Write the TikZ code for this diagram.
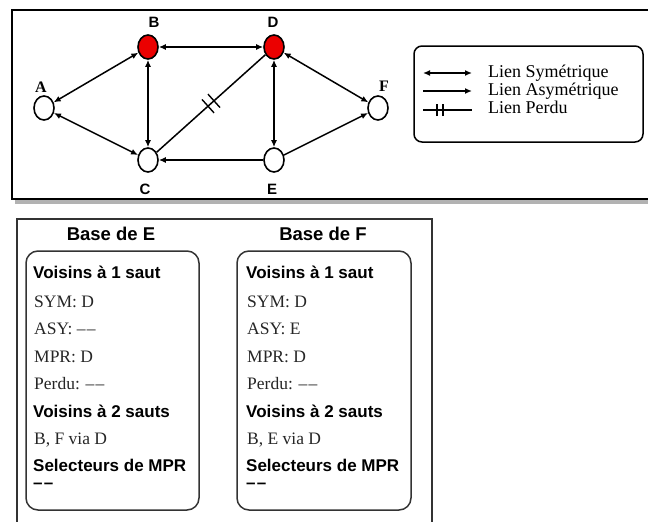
\documentclass[tikz,border=0pt]{standalone}
\usepackage{fontspec}
\setmainfont{Liberation Serif}
\setsansfont{Liberation Sans}
\usetikzlibrary{arrows.meta,decorations.markings,shapes.geometric}
\newcommand{\ddash}{\textendash\kern1.2pt\textendash}
\begin{document}
\begin{tikzpicture}[x=1pt,y=-1pt,
  nd/.style={ellipse,draw,line width=1.6pt,minimum width=20pt,minimum height=24pt,inner sep=0pt,fill=white},
  mprnd/.style={nd,fill=red!92!black},
  lnk/.style={line width=1.5pt},
  tip/.tip={Latex[length=7pt,width=6pt]},
  sym/.style={lnk,tip-tip},
  asy/.style={lnk,-tip},
  lost/.style={lnk,postaction={decorate},decoration={markings,
     mark=at position 0.5 with {\draw[line width=1.4pt] (-4pt,-9pt) -- (-4pt,9pt) (4pt,-9pt) -- (4pt,9pt);}}},
  lblsans/.style={font=\sffamily\bfseries\fontsize{15}{17}\selectfont,inner sep=0pt},
  lblserif/.style={font=\bfseries\fontsize{16}{18}\selectfont,inner sep=0pt},
  legtxt/.style={font=\fontsize{18}{20}\selectfont,anchor=base west,inner sep=0pt},
  title/.style={font=\sffamily\bfseries\fontsize{18.5}{21}\selectfont,anchor=base,inner sep=0pt},
  head/.style={font=\sffamily\bfseries\fontsize{17}{20}\selectfont,anchor=base west,inner sep=0pt},
  item/.style={font=\fontsize{17.5}{20}\selectfont,anchor=base west,inner sep=0pt,text=black!85},
  bigframe/.style={draw,line width=2.4pt},
  lowframe/.style={draw=black!80,line width=1.8pt},
  basebox/.style={draw=black!80,line width=1.5pt,rounded corners=12pt},
]
\useasboundingbox (0,0) rectangle (648,522);
\clip (0,0) rectangle (648,522);

% top frame with shadow
\fill[black!30] (15,199) rectangle (660,204);
\draw[bigframe,fill=white] (12,10) rectangle (670,199);

% graph nodes
\node[nd] (A) at (44,108) {};
\node[mprnd] (B) at (148,47) {};
\node[mprnd] (D) at (274,47) {};
\node[nd] (C) at (148,160) {};
\node[nd] (E) at (274,160) {};
\node[nd] (F) at (378,108) {};

\node[lblserif] (lA) at (41,87) {A};
\node[lblsans] (lB) at (154,22) {B};
\node[lblsans] (lD) at (273,22) {D};
\node[lblsans] (lC) at (145,189) {C};
\node[lblsans] (lE) at (272,189) {E};
\node[lblserif] (lF) at (384,86) {F};

% links
\draw[sym] (A) -- (B);
\draw[sym] (A) -- (C);
\draw[sym] (B) -- (D);
\draw[sym] (B) -- (C);
\draw[sym] (D) -- (E);
\draw[sym] (D) -- (F);
\draw[asy] (E) -- (C);
\draw[asy] (E) -- (F);
\draw[lost] (C) -- (D);

% legend
\draw[line width=1.5pt,rounded corners=8pt] (414,46) rectangle (643,142);
\coordinate (s1) at (423,73);
\coordinate (s2) at (472,73);
\coordinate (a1) at (423,91);
\coordinate (a2) at (472,91);
\coordinate (p1) at (423,110);
\coordinate (p2) at (472,110);
\coordinate (pm) at (440,110);
\draw[sym] (s1) -- (s2);
\draw[asy] (a1) -- (a2);
\draw[lnk] (p1) -- (p2);
\draw[line width=1.4pt] ([xshift=-3pt,yshift=-6pt]pm) -- ([xshift=-3pt,yshift=6pt]pm)
                        ([xshift=3pt,yshift=-6pt]pm) -- ([xshift=3pt,yshift=6pt]pm);
\node[legtxt] (t1) at (488,77) {Lien Symétrique};
\node[legtxt] (t2) at (488,95) {Lien Asymétrique};
\node[legtxt] (t3) at (488,113) {Lien Perdu};

% lower frame
\draw[lowframe] (17,219) rectangle (432,540);
\node[title] (tE) at (111,240) {Base de E};
\node[title] (tF) at (323,240) {Base de F};
\draw[basebox] (26,251) rectangle (199,510);
\draw[basebox] (237,251) rectangle (411,510);

% base de E
\node[head] (e1) at (33,278) {Voisins à 1 saut};
\node[item] (e2) at (34,307) {SYM: D};
\node[item] (e3) at (34,334) {ASY: \ddash};
\node[item] (e4) at (34,362) {MPR: D};
\node[item] (e5) at (34,389) {Perdu: \ddash};
\node[head] (e6) at (33,417) {Voisins à 2 sauts};
\node[item] (e7) at (34,444) {B, F via D};
\node[head] (e8) at (33,471) {Selecteurs de MPR};
\node[head] (e9) at (33,488) {\ddash};

% base de F
\node[head] (f1) at (246,278) {Voisins à 1 saut};
\node[item] (f2) at (247,307) {SYM: D};
\node[item] (f3) at (247,334) {ASY: E};
\node[item] (f4) at (247,362) {MPR: D};
\node[item] (f5) at (247,389) {Perdu: \ddash};
\node[head] (f6) at (246,417) {Voisins à 2 sauts};
\node[item] (f7) at (247,444) {B, E via D};
\node[head] (f8) at (246,471) {Selecteurs de MPR};
\node[head] (f9) at (246,488) {\ddash};
\end{tikzpicture}
\end{document}
